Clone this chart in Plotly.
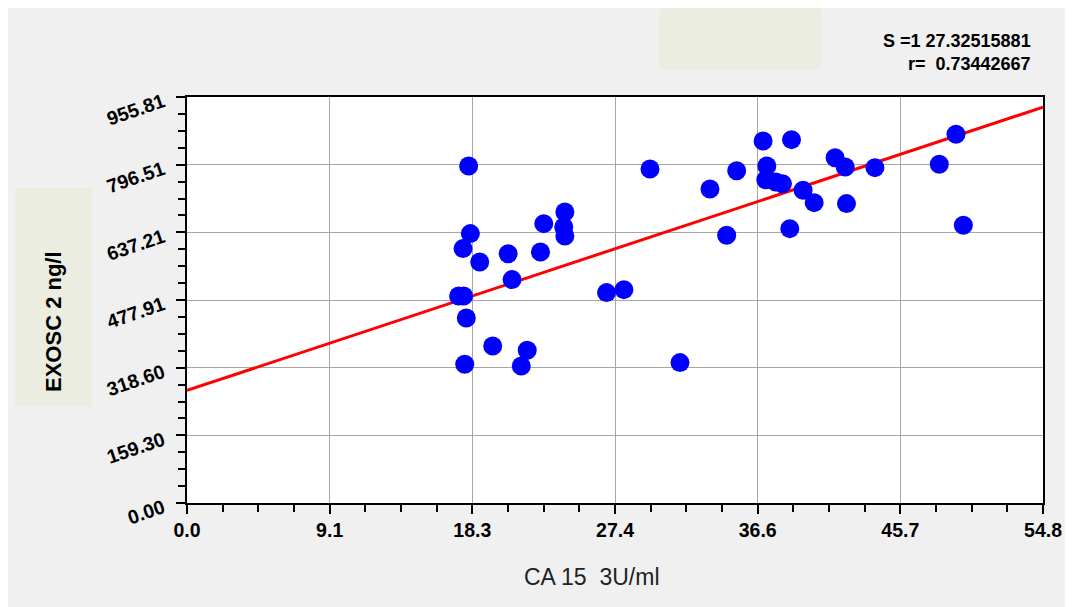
import numpy as np
import plotly.graph_objects as go

# ---- data ----
ca153 = [18.03, 18.14, 17.67, 18.74, 20.56, 20.81, 22.84, 24.19, 24.12, 24.19,
         22.63, 17.39, 17.71, 17.88, 19.57, 21.78, 21.40, 17.78, 26.86, 27.97,
         29.64, 31.56, 33.48, 35.19, 34.55, 36.88, 38.70, 37.12, 37.05, 37.69,
         38.12, 39.44, 40.15, 38.59, 41.49, 42.14, 42.22, 44.04, 49.23, 48.16, 49.70]
exosc2 = [793.3, 634.2, 598.9, 567.3, 587.0, 525.9, 657.7, 685.0, 649.7, 628.5,
          590.9, 487.3, 487.3, 435.5, 369.6, 359.5, 322.5, 326.5, 495.3, 502.3,
          786.3, 330.5, 739.2, 782.4, 630.2, 852.2, 855.4, 793.3, 761.2, 755.6,
          751.8, 736.1, 707.1, 645.9, 813.0, 791.0, 704.8, 789.5, 868.0, 797.3, 653.7]

fit_intercept = 265.0
fit_slope = 12.17

x_max = 54.8
y_max = 955.81
x_tick_labels = ["0.0", "9.1", "18.3", "27.4", "36.6", "45.7", "54.8"]
y_tick_labels = ["0.00", "159.30", "318.60", "477.91", "637.21", "796.51", "955.81"]
stats_lines = ["S =1 27.32515881", "r=  0.73442667"]
x_title = "CA 15  3U/ml"
y_title = "EXOSC 2 ng/l"

n = len(x_tick_labels) - 1
x_tickvals = [x_max * i / n for i in range(n + 1)]
y_tickvals = [y_max * i / n for i in range(n + 1)]

OFF = 8  # page body margin
W, H = 1073 - OFF, 607 - OFF
L, T = 187 - OFF, 97 - OFF
pw, ph = 856, 406
R, B = W - L - pw, H - T - ph

def px(X):  # page pixel -> paper
    return (X - OFF - L) / pw

def py(Y):
    return (T + ph - (Y - OFF)) / ph

fig = go.Figure()

fit_x = np.array([0.0, x_max])
fig.add_trace(go.Scatter(x=fit_x, y=fit_intercept + fit_slope * fit_x, mode="lines",
                         line=dict(color="#ff0000", width=3), hoverinfo="skip",
                         showlegend=False))
fig.add_trace(go.Scatter(x=ca153, y=exosc2, mode="markers",
                         marker=dict(color="#0000ff", size=19, line=dict(width=0)),
                         showlegend=False))

axis_common = dict(showline=True, linecolor="black", linewidth=2, mirror=True,
                   ticks="outside", tickcolor="black", tickwidth=1.5, ticklen=9,
                   showgrid=True, gridcolor="#a6a6a6", gridwidth=1.2, zeroline=False)
tick_font = dict(family="Liberation Sans, Arial, sans-serif", size=19.5,
                 color="black", weight="bold")

fig.update_xaxes(range=[0, x_max], tickvals=x_tickvals, ticktext=x_tick_labels,
                 tickfont=tick_font,
                 minor=dict(ticks="outside", dtick=x_max / n / 4, tick0=0, ticklen=7,
                            tickcolor="black", tickwidth=1.5, showgrid=False),
                 **axis_common)
fig.update_yaxes(range=[0, y_max], tickvals=y_tickvals, ticktext=y_tick_labels,
                 tickangle=-19, ticklabelshift=3, ticklabelstandoff=9,
                 tickfont=tick_font,
                 minor=dict(ticks="outside", dtick=y_max / n / 4, tick0=0, ticklen=7,
                            tickcolor="black", tickwidth=1.5, showgrid=False),
                 **axis_common)

# rounded beige box at top
x0, x1, y0, y1, r = px(659), px(822), py(7), py(70), 8
rx, ry = r / pw, r / ph
path = (f"M {x0+rx},{y0} L {x1-rx},{y0} Q {x1},{y0} {x1},{y0-ry} "
        f"L {x1},{y1+ry} Q {x1},{y1} {x1-rx},{y1} L {x0+rx},{y1} "
        f"Q {x0},{y1} {x0},{y1+ry} L {x0},{y0-ry} Q {x0},{y0} {x0+rx},{y0} Z")
fig.add_shape(type="path", path=path, xref="paper", yref="paper",
              fillcolor="#ecede1", line=dict(width=0), layer="below")

# y-title box
fig.add_shape(type="rect", xref="paper", yref="paper",
              x0=px(15), x1=px(92), y0=py(407), y1=py(188),
              fillcolor="#ecede1", line=dict(width=0), layer="below")
fig.add_annotation(x=px(53), y=py(322), xref="paper", yref="paper", text=y_title,
                   textangle=-90, showarrow=False, xanchor="center", yanchor="middle",
                   font=dict(family="Liberation Sans, Arial, sans-serif", size=22,
                             color="black", weight="bold"))

fig.add_annotation(x=px(592), y=py(577), xref="paper", yref="paper", text=x_title,
                   showarrow=False, xanchor="center", yanchor="middle",
                   font=dict(family="Liberation Sans, Arial, sans-serif",
                             size=23, color="#222222"))

fig.add_annotation(x=px(1033), y=py(52), xref="paper", yref="paper",
                   text="<br>".join(stats_lines), showarrow=False, align="right",
                   xanchor="right", yanchor="middle",
                   font=dict(family="Liberation Sans, Arial, sans-serif", size=18,
                             color="black", weight="bold"))

fig.update_layout(width=W, height=H, margin=dict(l=L, r=R, t=T, b=B),
                  paper_bgcolor="#f0f0f0", plot_bgcolor="white",
                  showlegend=False)

fig.write_html("out.html")
